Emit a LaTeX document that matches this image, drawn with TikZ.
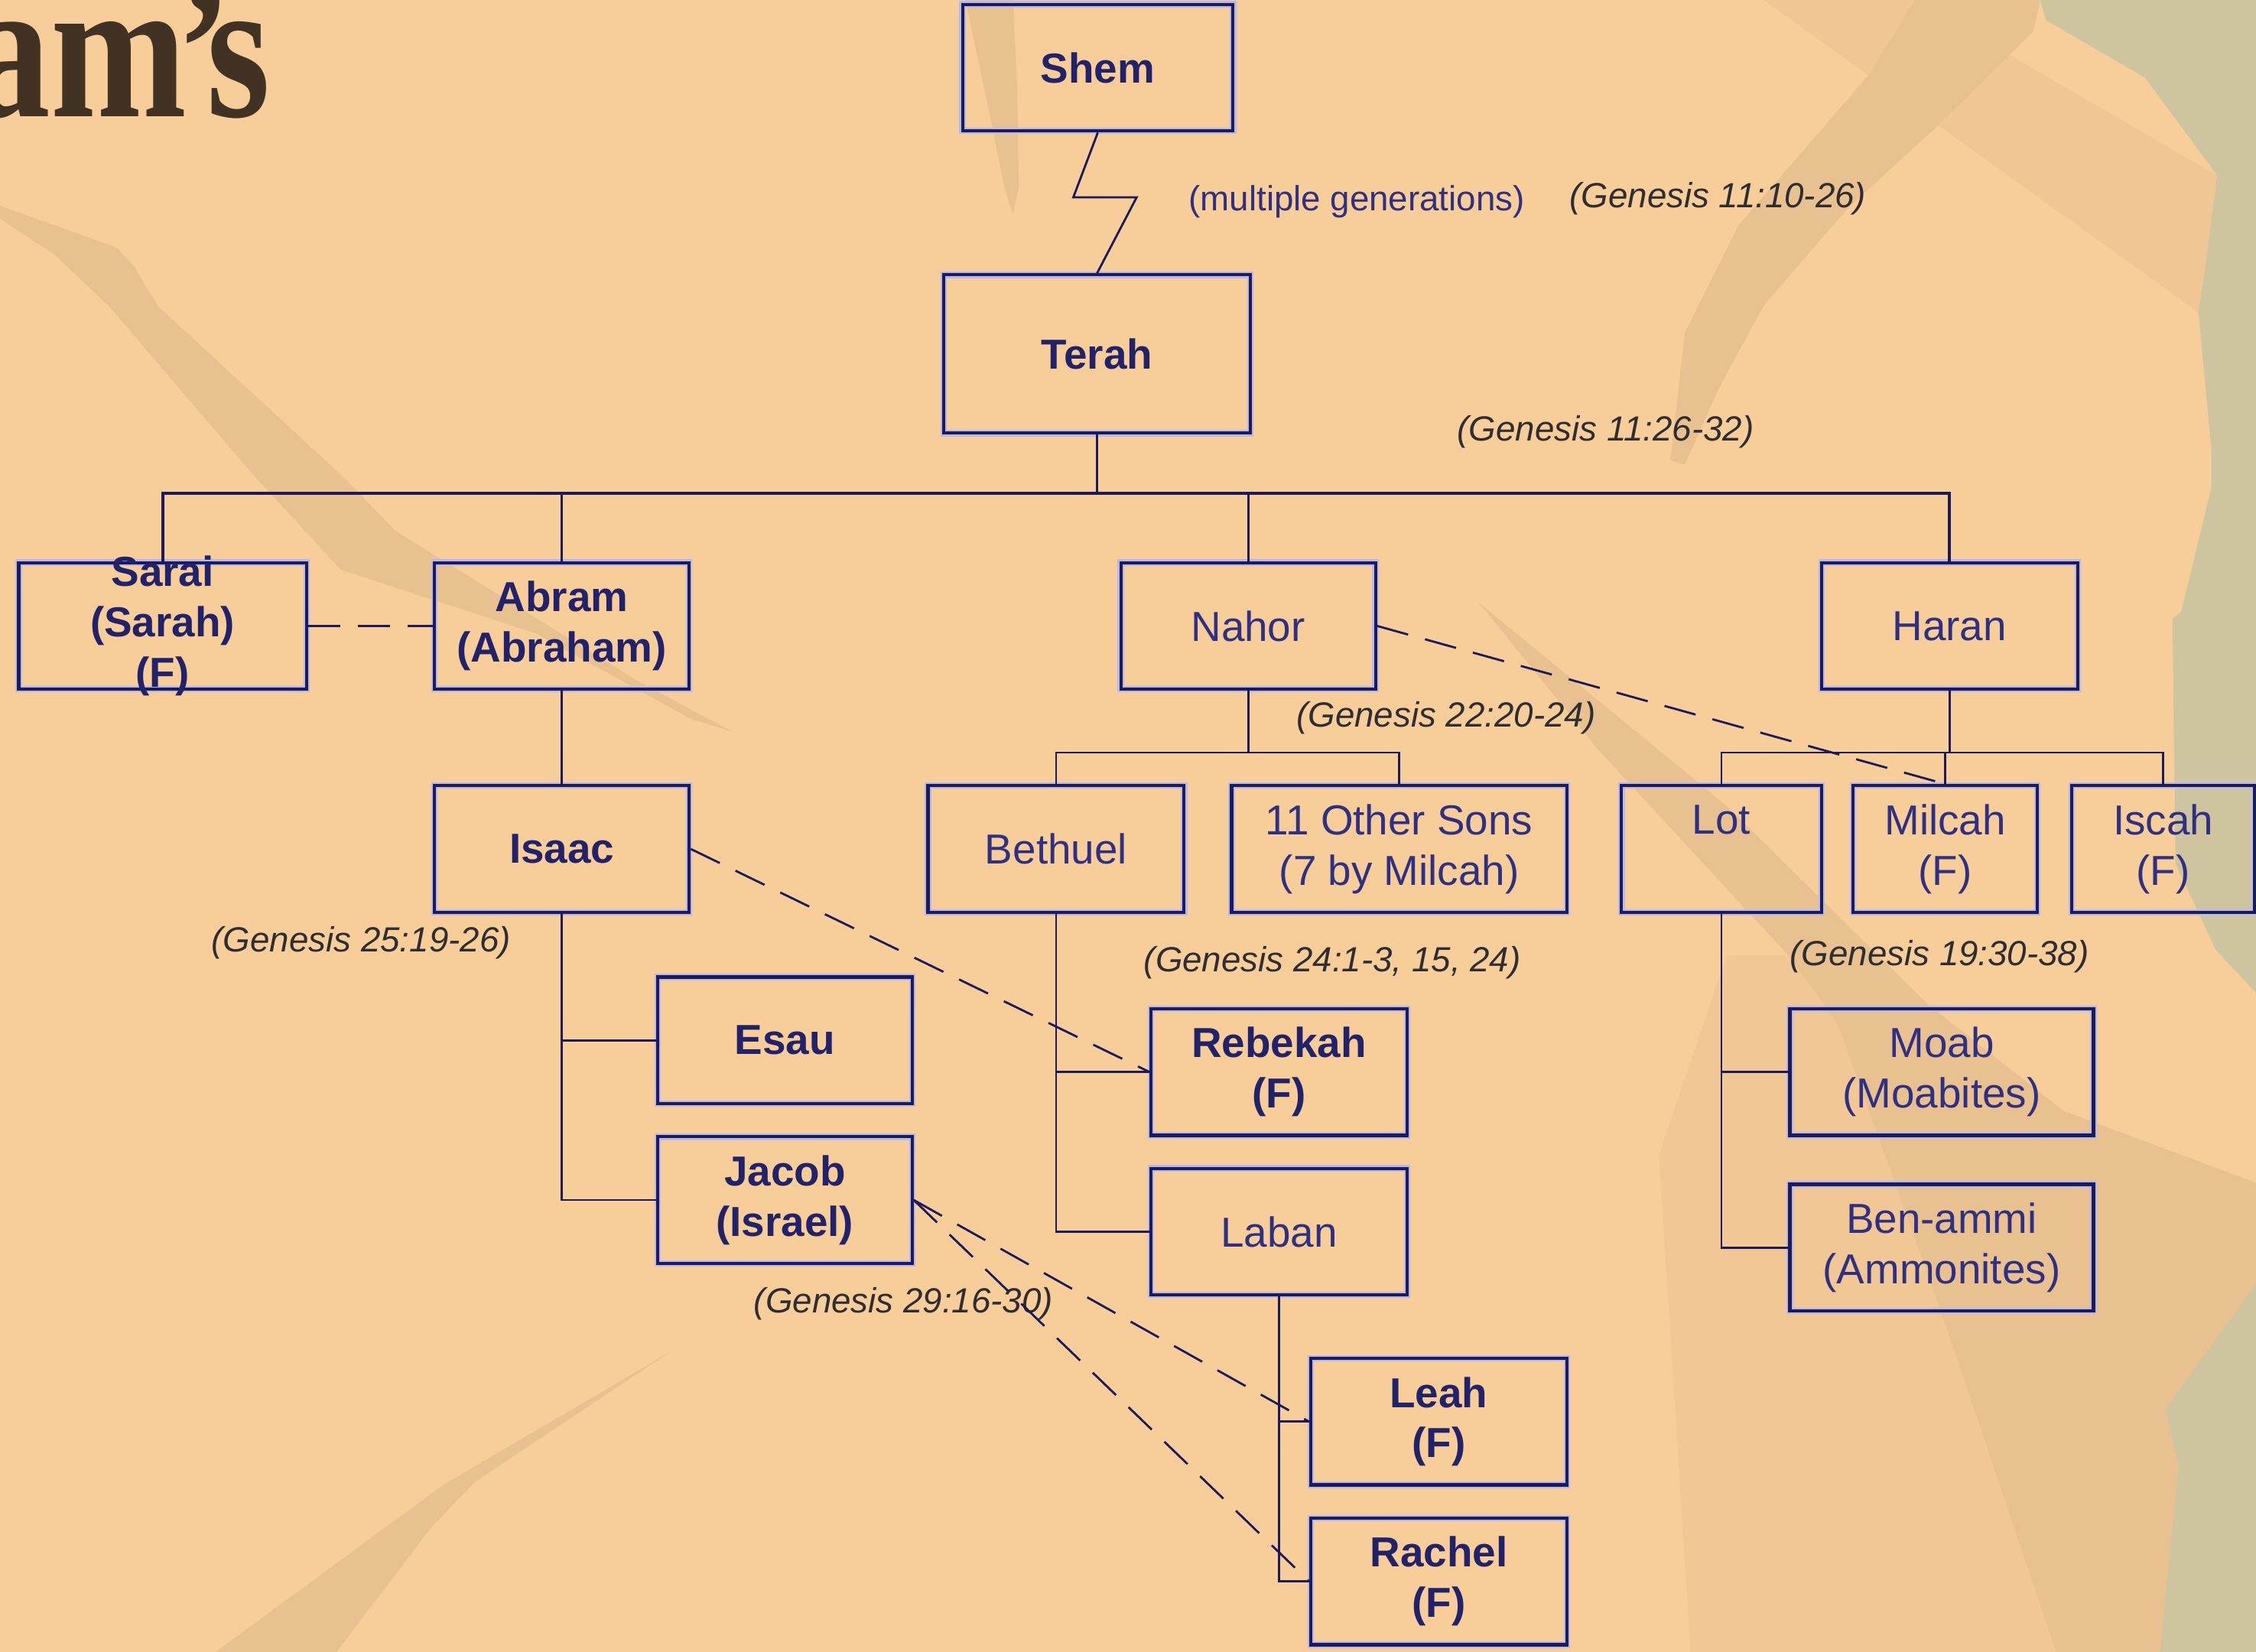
\documentclass[tikz,border=0pt]{standalone}
\usepackage{fontspec}
\setmainfont{Liberation Sans}
\newfontfamily\titlefont{Liberation Serif}

\definecolor{peach}{RGB}{247,206,154}
\definecolor{streak}{RGB}{233,192,143}
\definecolor{paper}{RGB}{206,197,160}
\definecolor{famline}{RGB}{26,26,92}
\definecolor{famdark}{RGB}{34,34,106}
\definecolor{famtext}{RGB}{48,48,130}
\definecolor{refgray}{RGB}{45,45,50}
\definecolor{halo}{RGB}{185,185,232}
\definecolor{titlebrown}{RGB}{66,50,36}

% one pixel of the slide
\newcommand{\dpx}{0.018814cm}

\begin{document}
\begin{tikzpicture}[x=0.018814cm, y=-0.018814cm,
  person/.style={draw=famline, line width=1.2pt, preaction={draw=halo, line width=2.4pt},
    inner sep=0pt, align=center, minimum width=178*\dpx, minimum height=88*\dpx,
    text=famtext, font=\fontsize{15.6}{18.7}\selectfont},
  boldperson/.style={person, text=famdark, font=\fontsize{15.6}{18.7}\selectfont\bfseries},
  persontext/.style={inner sep=0pt, align=center, text=famdark,
    font=\fontsize{15.6}{18.7}\selectfont\bfseries},
  ref/.style={inner sep=0pt, text=refgray, font=\fontsize{13}{15}\selectfont\itshape},
  link/.style={draw=famline, line width=0.8pt},
  spouse/.style={link, dash pattern=on 12pt off 6.5pt}]

\useasboundingbox (0,0) rectangle (1568,1148);

% background of the slide:
\fill[peach] (0,0) rectangle (1568,1148);
\fill[paper] (1418,0) -- (1422,14) -- (1491,54) -- (1541,122) -- (1532,190) -- (1528,217)
  -- (1537,312) -- (1537,339) -- (1516,425) -- (1510,430) -- (1512,600) -- (1540,660)
  -- (1568,690) -- (1568,892) -- (1505,979) -- (1514,1019) -- (1501,1148) -- (1568,1148)
  -- (1568,0) -- cycle;

% darker brush strokes on the paper
\fill[streak] (0,143) -- (81,172) -- (93,185) -- (110,213) -- (237,330) -- (275,369)
  -- (441,472) -- (508,508) -- (481,500) -- (372,440) -- (237,396) -- (176,330)
  -- (76,213) -- (38,177) -- (0,152) -- cycle;
\fill[streak] (671,0) -- (704,0) -- (707,60) -- (708,130) -- (704,149) -- (698,130)
  -- (688,80) -- cycle;
\fill[streak, opacity=0.5] (1226,0) -- (1331,0) -- (1541,122) -- (1528,217) -- cycle;
\fill[streak] (1331,0) -- (1299,52) -- (1208,157) -- (1171,231) -- (1161,320) -- (1171,323)
  -- (1194,271) -- (1226,212) -- (1285,144) -- (1345,89) -- (1413,22) -- (1418,0) -- cycle;
\fill[streak] (465,940) -- (308,1032) -- (150,1148) -- (234,1148) -- (300,1061)
  -- (330,1030) -- cycle;
\fill[streak, opacity=0.4] (1200,664) -- (1153,803) -- (1175,1148) -- (1429,1148)
  -- (1349,911) -- (1277,711) -- (1243,664) -- cycle;
\fill[streak] (1028,419) -- (1110,520) -- (1243,664) -- (1277,711) -- (1349,911)
  -- (1429,1148) -- (1501,1148) -- (1514,1019) -- (1505,979) -- (1568,892) -- (1568,822)
  -- (1434,772) -- (1340,698) -- (1200,560) -- cycle;

% what is left of the title
\node[anchor=base west, inner sep=0pt, text=titlebrown,
  font=\titlefont\bfseries\fontsize{75}{75}\selectfont] (title) at (-22,81)
  {\scalebox{0.81}[1]{am\kern-0.06em’\kern-0.15em s}};

% the people
\node[boldperson, minimum width=188*\dpx] (shem) at (763,47) {Shem};
\node[boldperson, minimum width=213*\dpx, minimum height=110*\dpx] (terah) at (762.5,246) {Terah};
\node[person, minimum width=200*\dpx] (sarai) at (113,435) {};
\node[persontext] (saraitext) at (sarai.center) {Sarai\\(Sarah)\\(F)};
\node[boldperson, minimum width=177*\dpx] (abram) at (390.5,435) {Abram\\(Abraham)};
\node[person, minimum width=177*\dpx] (nahor) at (867.5,435) {Nahor};
\node[person] (haran) at (1355,435) {Haran};

\node[boldperson, minimum width=177*\dpx] (isaac) at (390.5,590) {Isaac};
\node[boldperson, minimum width=177*\dpx] (esau) at (545.5,723) {Esau};
\node[boldperson, minimum width=177*\dpx] (jacob) at (545.5,834) {Jacob\\(Israel)};

\node[person] (bethuel) at (734,590) {Bethuel};
\node[person, minimum width=233*\dpx] (sons) at (972.5,590) {11 Other Sons\\(7 by Milcah)};
\node[boldperson] (rebekah) at (889,745) {Rebekah\\(F)};
\node[person] (laban) at (889,856) {Laban};
\node[boldperson] (leah) at (1000,988) {Leah\\(F)};
\node[boldperson] (rachel) at (1000,1099) {Rachel\\(F)};

\node[person, minimum width=139*\dpx] (lot) at (1196.5,590) {Lot\\\phantom{(F)}};
\node[person, minimum width=128*\dpx] (milcah) at (1352,590) {Milcah\\(F)};
\node[person, minimum width=127*\dpx] (iscah) at (1503.5,590) {Iscah\\(F)};
\node[person, minimum width=211*\dpx] (moab) at (1349.5,745) {Moab\\(Moabites)};
\node[person, minimum width=211*\dpx] (benammi) at (1349.5,867) {Ben-ammi\\(Ammonites)};

% notes and verses
\node[inner sep=0pt, text=famtext, font=\fontsize{13}{15}\selectfont] (gens) at (943,140) {(multiple generations)};
\node[ref] (gen1) at (1194,138) {(Genesis 11:10-26)};
\node[ref] (gen2) at (1116,300) {(Genesis 11:26-32)};
\node[ref] (gen3) at (1005,499) {(Genesis 22:20-24)};
\node[ref] (gen4) at (251,655) {(Genesis 25:19-26)};
\node[ref] (gen5) at (926,669) {(Genesis 24:1-3, 15, 24)};
\node[ref] (gen6) at (1348,665) {(Genesis 19:30-38)};
\node[ref] (gen7) at (628,906) {(Genesis 29:16-30)};

% shem to terah, broken line for the generations between
\draw[link] (shem.south) -- ++(-17,45) -- ++(44,0) -- (terah.north);

% terah's children:
\coordinate (tbar) at (762.5,343);
\draw[link, line width=1.1pt] (terah.south) -- (tbar);
\draw[link, line width=1.1pt] (tbar) -| (sarai.north);
\draw[link, line width=1.1pt] (tbar) -| (haran.north);
\draw[link] (tbar -| abram.north) -- (abram.north);
\draw[link] (tbar -| nahor.north) -- (nahor.north);

% abram's line
\draw[link] (abram.south) -- (isaac.north);
\draw[link] (isaac.south) |- (esau.west);
\draw[link] (isaac.south) |- (jacob.west);

% nahor's line
\coordinate (nbar) at (867.5,523);
\draw[link] (nahor.south) -- (nbar);
\draw[link] (nbar) -| (bethuel.north);
\draw[link] (nbar) -| (sons.north);
\draw[link] (bethuel.south) |- (rebekah.west);
\draw[link] (bethuel.south) |- (laban.west);
\draw[link] (laban.south) |- (leah.west);
\draw[link] (laban.south) |- (rachel.west);

% haran's line
\coordinate (hbar) at (1355,523);
\draw[link] (haran.south) -- (hbar);
\draw[link] (hbar) -| (lot.north);
\draw[link] (hbar) -| (milcah.north);
\draw[link] (hbar) -| (iscah.north);
\draw[link] (lot.south) |- (moab.west);
\draw[link] (lot.south) |- (benammi.west);

% marriages (dashed)
\draw[spouse] (sarai.east) -- (abram.west);
\draw[spouse] (nahor.east) -- (milcah.north);
\draw[spouse] (isaac.east) -- (rebekah.west);
\draw[spouse] (jacob.east) -- (leah.west);
\draw[spouse] (jacob.east) -- (rachel.west);

\end{tikzpicture}
\end{document}
